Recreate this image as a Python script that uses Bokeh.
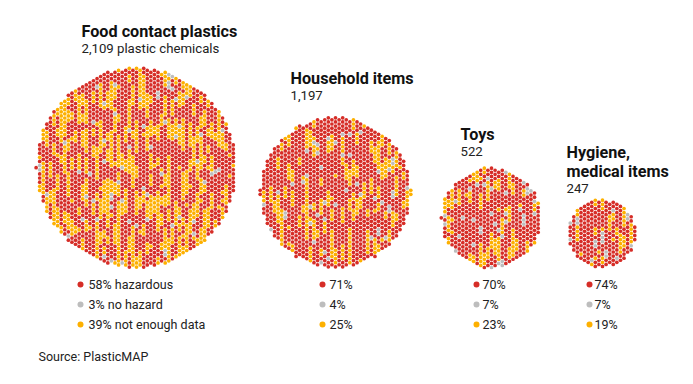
import numpy as np
from bokeh.plotting import figure
from bokeh.models import Range1d, ColumnDataSource
from bokeh.core.properties import value
from bokeh.embed import file_html
from bokeh.resources import INLINE

# ---- data ----
categories = ["Food contact plastics", "Household items", "Toys", "Hygiene,\nmedical items"]
totals = [2109, 1197, 522, 247]
total_labels = ["2,109 plastic chemicals", "1,197", "522", "247"]
hazardous = [58, 71, 70, 74]
no_hazard = [3, 4, 7, 7]
not_enough = [39, 25, 23, 19]
legend_names = ["hazardous", "no hazard", "not enough data"]

RED = "#d62d27"
GRAY = "#bdbdbd"
ORANGE = "#fdb000"
colors = [RED, GRAY, ORANGE]

# ---- layout (page pixels) ----
W, H = 677, 368
p = figure(width=W, height=H, output_backend="svg", toolbar_location=None,
           x_range=Range1d(0, W), y_range=Range1d(H, 0),
           min_border=0, x_axis_location=None, y_axis_location=None)
p.grid.visible = False
p.outline_line_color = None
p.background_fill_color = "white"

centers_x = [136, 335, 491, 602]
bottom_y = 267
d = 4.14
rng = np.random.default_rng(11)

for i, n in enumerate(totals):
    r = np.sqrt(n * d * d * np.sqrt(3) / 2 / np.pi)
    cx = centers_x[i]
    cy = bottom_y - r
    dx = d * np.sqrt(3) / 2
    m = int(r / dx) + 4
    pts = []
    for c in range(-m, m + 1):
        off = (d / 2) if (c % 2) else 0.0
        for rr in range(-m - 2, m + 3):
            pts.append((c * dx, rr * d + off))
    pts = np.array(pts)
    dist = np.hypot(pts[:, 0], pts[:, 1])
    order = np.argsort(dist, kind="stable")
    sel = pts[order[:n]]
    # column-wise ordering so colour runs form short vertical streaks
    sel = sel[np.lexsort((sel[:, 1], np.round(sel[:, 0], 3)))]
    counts = [round(n * hazardous[i] / 100), round(n * no_hazard[i] / 100)]
    counts.append(n - sum(counts))
    runs = []
    for k, cnt in enumerate(counts):
        left = cnt
        maxrun = 1 if k == 1 else 4
        while left > 0:
            L = min(left, int(rng.integers(1, maxrun + 1)))
            runs.append((colors[k], L))
            left -= L
    runs = [runs[j] for j in rng.permutation(len(runs))]
    cols = []
    for col, L in runs:
        cols.extend([col] * L)
    src = ColumnDataSource(dict(x=sel[:, 0] + cx, y=sel[:, 1] + cy, c=cols))
    p.scatter("x", "y", source=src, size=3.7, fill_color="c", line_color=None)

# ---- titles ----
FONT = "Roboto"
title_pos = [(81, 31), (290, 78), (460, 134), (566, 152)]
for i, name in enumerate(categories):
    tx, ty = title_pos[i]
    lines = name.split("\n")
    for j, ln in enumerate(lines):
        p.text(x=[tx], y=[ty + j * 19], text=[ln], text_font=value(FONT),
               text_font_style="bold", text_font_size="16.2px",
               text_baseline="middle", text_align="left", text_color="#111111")
    p.text(x=[tx], y=[ty + (len(lines) - 1) * 19 + 17], text=[total_labels[i]],
           text_font=value(FONT), text_font_size="13.2px",
           text_baseline="middle", text_align="left", text_color="#222222")

# ---- legends ----
leg_dot_x = [80, 322, 476, 589]
leg_text_x = [88, 329, 482, 594]
leg_y = [284, 304, 324]
for i in range(4):
    vals = [hazardous[i], no_hazard[i], not_enough[i]]
    for k in range(3):
        lab = f"{vals[k]}%" + (f" {legend_names[k]}" if i == 0 else "")
        p.scatter(x=[leg_dot_x[i]], y=[leg_y[k]], size=6, fill_color=colors[k], line_color=None)
        p.text(x=[leg_text_x[i]], y=[leg_y[k]], text=[lab], text_font=value(FONT),
               text_font_size="12.5px", text_baseline="middle", text_align="left",
               text_color="#222222")

p.text(x=[38], y=[356], text=["Source: PlasticMAP"], text_font=value(FONT),
       text_font_size="12.5px", text_baseline="middle", text_align="left", text_color="#222222")

open("out.html", "w").write(file_html(p, INLINE))
